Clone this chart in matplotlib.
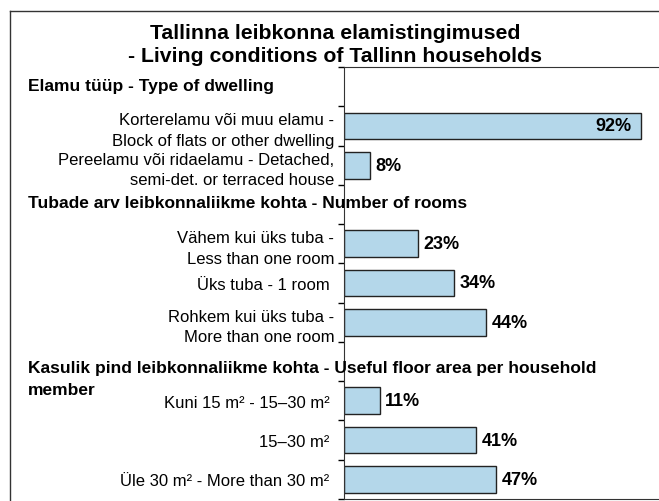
import matplotlib.pyplot as plt
from matplotlib.lines import Line2D
import numpy as np

plt.rcParams['font.family'] = ['Liberation Sans', 'DejaVu Sans']

# Andmed (protsent leibkondadest)
ridade_arv = 11
rubriigid = [
    (0, ['Elamu tüüp - Type of dwelling']),
    (3, ['Tubade arv leibkonnaliikme kohta - Number of rooms']),
    (7, ['Kasulik pind leibkonnaliikme kohta - Useful floor area per household', 'member']),
]
positsioonid = [1, 2, 4, 5, 6, 8, 9, 10]
sildid = [
    'Korterelamu või muu elamu -\nBlock of flats or other dwelling',
    'Pereelamu või ridaelamu - Detached,\nsemi-det. or terraced house',
    'Vähem kui üks tuba -\nLess than one room',
    'Üks tuba - 1 room ',
    'Rohkem kui üks tuba -\nMore than one room',
    'Kuni 15 m² - 15–30 m² ',
    '15–30 m² ',
    'Üle 30 m² - More than 30 m² ',
]
vaartused = [92, 8, 23, 34, 44, 11, 41, 47]

fig = plt.figure(figsize=(6.59, 5.02), dpi=100)
ax = fig.add_axes([344 / 659, 1 - 500 / 502, 323 / 659, 432 / 502])

ax.barh(positsioonid, vaartused, height=0.68, color='#b4d7ea',
        edgecolor='#222222', linewidth=1)
ax.set_ylim(ridade_arv - 0.5, -0.5)
ax.set_xlim(0, 100)

# sildid kategooriate keskel, kriipsud vahel (nagu Excelis)
ax.set_yticks(positsioonid)
ax.set_yticklabels(sildid, fontsize=12, linespacing=1.45)
ax.set_yticks(np.arange(-0.5, ridade_arv), minor=True)
ax.tick_params(axis='y', which='major', length=0, pad=7)
ax.tick_params(axis='y', which='minor', length=4, direction='out', width=1)
ax.set_xticks([])
ax.spines['right'].set_visible(False)
for s in ['left', 'top', 'bottom']:
    ax.spines[s].set_color('#333333')

for y, v in zip(positsioonid, vaartused):
    if v > 80:
        ax.text(v - 3.1, y, f'{v}%', ha='right', va='center',
                fontsize=13, fontweight='bold')
    else:
        ax.text(v + 1.7, y, f'{v}%', ha='left', va='center',
                fontsize=13, fontweight='bold')

# rühmade pealkirjad vasakus servas (iga rida eraldi)
for y, read in rubriigid:
    algus = y - 0.23 + 0.2 * (len(read) - 1)
    for i, rida in enumerate(read):
        ax.annotate(rida, xy=(28 / 659, algus + 0.56 * i),
                    xycoords=('figure fraction', 'data'),
                    ha='left', va='top', fontsize=12.5, fontweight='bold',
                    annotation_clip=False)

fig.text(0.508, 1 - 34 / 502, 'Tallinna leibkonna elamistingimused',
         ha='center', va='center', fontsize=15.3, fontweight='bold')
fig.text(0.508, 1 - 56 / 502, '- Living conditions of Tallinn households',
         ha='center', va='center', fontsize=15.3, fontweight='bold')

# välimine raam
fig.add_artist(Line2D([10 / 659, 10 / 659], [0, 1 - 12 / 502], color='#333333', lw=1))
fig.add_artist(Line2D([10 / 659, 1], [1 - 12 / 502, 1 - 12 / 502], color='#333333', lw=1))

fig.savefig('out.png', dpi=100)
